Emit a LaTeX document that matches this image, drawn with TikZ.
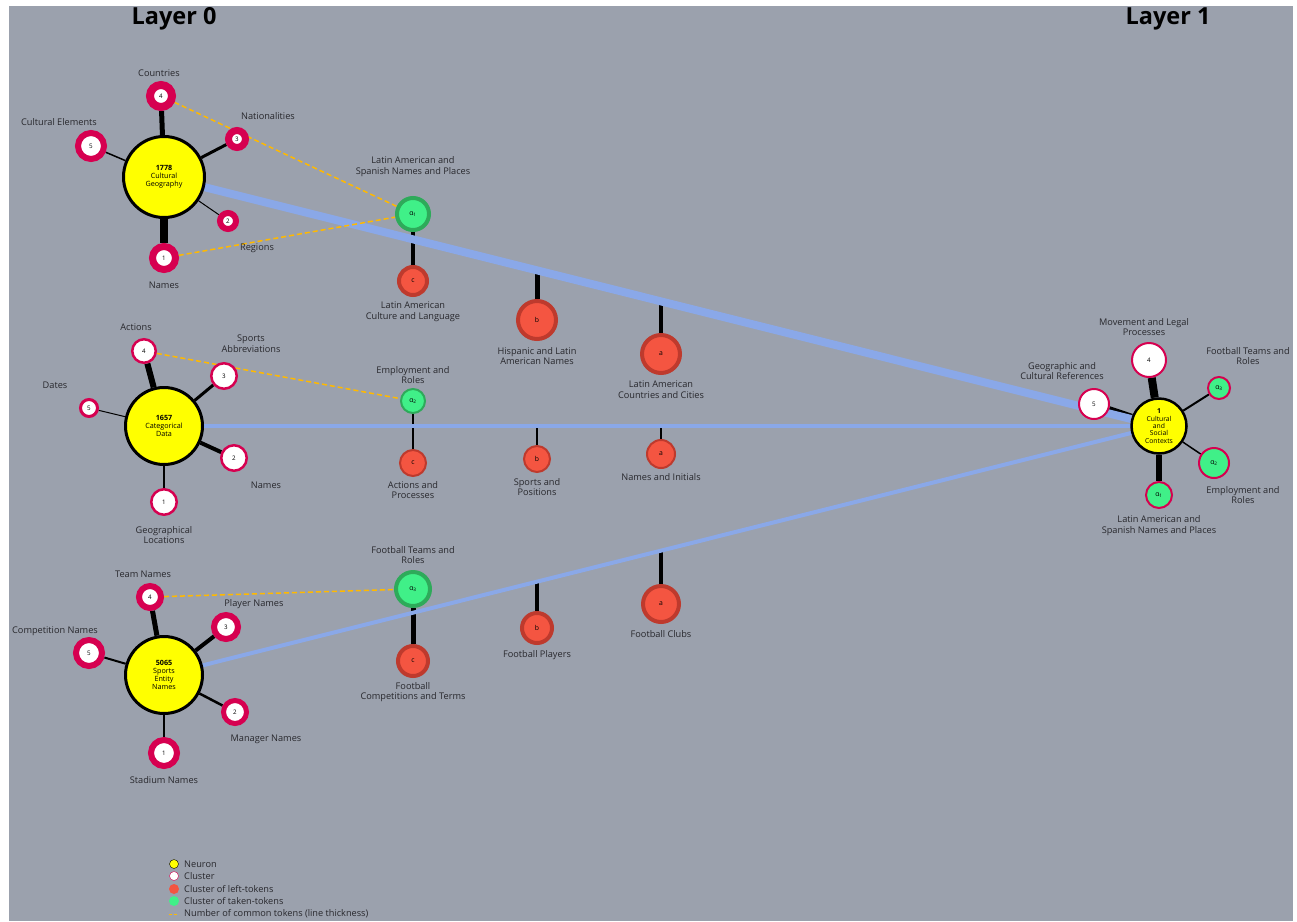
\documentclass[tikz,border=0pt]{standalone}
\usepackage{fontspec}
\setmainfont{Open Sans}
\usepackage{tikz}
\usetikzlibrary{backgrounds}
\usepackage{xcolor}
\definecolor{bggray}{RGB}{155,161,173}
\definecolor{crimson}{RGB}{214,0,80}
\definecolor{neuyellow}{RGB}{255,255,0}
\definecolor{leftred}{RGB}{244,85,65}
\definecolor{leftredb}{RGB}{190,58,45}
\definecolor{takengreen}{RGB}{64,240,136}
\definecolor{takengreenb}{RGB}{46,170,90}
\definecolor{linkblue}{RGB}{138,168,232}
\definecolor{commonorange}{RGB}{255,185,0}
\definecolor{labeltext}{RGB}{40,40,45}
\tikzstyle{neuron} = [circle, draw=black, line width=3pt, fill=neuyellow, inner sep=0pt, align=center, font=\fontsize{7.2}{7.8}\selectfont]
\tikzstyle{ring} = [circle, draw=crimson, fill=white, inner sep=0pt, font=\fontsize{6.2}{6.2}\selectfont]
\tikzstyle{leftc} = [circle, draw=leftredb, fill=leftred, inner sep=0pt, font=\fontsize{6.8}{6.8}\selectfont]
\tikzstyle{takenc} = [circle, draw=takengreenb, fill=takengreen, inner sep=0pt, font=\fontsize{6.8}{6.8}\selectfont]
\tikzstyle{lbl} = [align=center, text=labeltext, inner sep=0pt, font=\fontsize{9.2}{10.8}\selectfont]
\tikzstyle{link} = [draw=linkblue]
\tikzstyle{common} = [draw=commonorange, line width=1.5pt, dash pattern=on 5pt off 3pt]
\begin{document}
\begin{tikzpicture}[x=1pt, y=-1pt]
\useasboundingbox (0,0) rectangle (1297,921);

% Layer titles
\node[font=\fontsize{23.5}{25}\selectfont\bfseries] (t0) at (174,19) {Layer 0};
\node[font=\fontsize{23.5}{25}\selectfont\bfseries] (t1) at (1168,19) {Layer 1};

% Neurons
\node[neuron, minimum size=81pt] (n1) at (164,177) {\textbf{1778}\\Cultural\\Geography};
\node[neuron, minimum size=77pt] (n2) at (164,426) {\textbf{1657}\\Categorical\\Data};
\node[neuron, minimum size=77pt] (n3) at (164,675) {\textbf{5065}\\Sports\\Entity\\Names};
\node[neuron, minimum size=55pt, line width=2.5pt, font=\fontsize{6.8}{7.3}\selectfont] (m1) at (1159,426) {\textbf{1}\\Cultural\\and\\Social\\Contexts};

% Clusters of neuron 1778
\node[ring, minimum size=22pt, line width=8pt] (g4) at (161,96) {4};
\node[ring, minimum size=17pt, line width=7pt] (g3) at (237,139) {3};
\node[ring, minimum size=26pt, line width=6pt] (g5) at (91,146) {5};
\node[ring, minimum size=16pt, line width=6pt] (g2) at (228,221) {2};
\node[ring, minimum size=23pt, line width=7pt] (g1) at (164,258) {1};
\node[lbl] (lg4) at (159,73) {Countries};
\node[lbl] (lg3) at (268,116) {Nationalities};
\node[lbl] (lg5) at (59,122) {Cultural Elements};
\node[lbl] (lg2) at (257,248) {Regions};
\node[lbl] (lg1) at (164,285) {Names};

% Clusters of neuron 1657
\node[ring, minimum size=23.5pt, line width=2.5pt] (d4) at (144,351) {4};
\node[ring, minimum size=25.5pt, line width=2.5pt] (d3) at (224,376) {3};
\node[ring, minimum size=17pt, line width=3pt] (d5) at (89,408) {5};
\node[ring, minimum size=25.5pt, line width=2.5pt] (d2) at (234,458) {2};
\node[ring, minimum size=25.5pt, line width=2.5pt] (d1) at (164,502) {1};
\node[lbl] (ld4) at (136,327) {Actions};
\node[lbl] (ld3) at (251,344) {Sports\\Abbreviations};
\node[lbl] (ld5) at (55,385) {Dates};
\node[lbl] (ld2) at (266,485) {Names};
\node[lbl] (ld1) at (164,535) {Geographical\\Locations};

% Clusters of neuron 5065
\node[ring, minimum size=22pt, line width=6pt] (s4) at (150,597) {4};
\node[ring, minimum size=24pt, line width=6pt] (s3) at (226,627) {3};
\node[ring, minimum size=26pt, line width=6pt] (s5) at (89,653) {5};
\node[ring, minimum size=23pt, line width=5pt] (s2) at (235,712) {2};
\node[ring, minimum size=26pt, line width=6pt] (s1) at (164,753) {1};
\node[lbl] (ls4) at (143,574) {Team Names};
\node[lbl] (ls3) at (254,604) {Player Names};
\node[lbl] (ls5) at (55,631) {Competition Names};
\node[lbl] (ls2) at (266,739) {Manager Names};
\node[lbl] (ls1) at (164,780) {Stadium Names};

% Taken and left tokens, first row
\node[takenc, minimum size=32pt, line width=4pt] (ta1) at (413,214) {α\textsubscript{1}};
\node[leftc, minimum size=28pt, line width=4pt] (lc1) at (413,281) {c};
\node[leftc, minimum size=38pt, line width=4pt] (lb1) at (537,320) {b};
\node[leftc, minimum size=38pt, line width=4pt] (la1) at (661,354) {a};
\node[lbl] (lta1) at (413,167) {Latin American and\\Spanish Names and Places};
\node[lbl] (llc1) at (413,312) {Latin American\\Culture and Language};
\node[lbl] (llb1) at (537,356) {Hispanic and Latin\\American Names};
\node[lbl] (lla1) at (661,390) {Latin American\\Countries and Cities};

% second row
\node[takenc, minimum size=24pt, line width=2pt] (ta2) at (413,401) {α\textsubscript{2}};
\node[leftc, minimum size=26pt, line width=2pt] (lc2) at (413,463) {c};
\node[leftc, minimum size=26pt, line width=2pt] (lb2) at (537,459) {b};
\node[leftc, minimum size=28pt, line width=2pt] (la2) at (661,454) {a};
\node[lbl] (lta2) at (413,375) {Employment and\\Roles};
\node[lbl] (llc2) at (413,490) {Actions and\\Processes};
\node[lbl] (llb2) at (537,487) {Sports and\\Positions};
\node[lbl] (lla2) at (661,477) {Names and Initials};

% third row
\node[takenc, minimum size=34pt, line width=4pt] (ta3) at (413,589) {α\textsubscript{3}};
\node[leftc, minimum size=30pt, line width=4pt] (lc3) at (413,661) {c};
\node[leftc, minimum size=30pt, line width=4pt] (lb3) at (537,628) {b};
\node[leftc, minimum size=36pt, line width=4pt] (la3) at (661,604) {a};
\node[lbl] (lta3) at (413,555) {Football Teams and\\Roles};
\node[lbl] (llc3) at (413,692) {Football\\Competitions and Terms};
\node[lbl] (llb3) at (537,655) {Football Players};
\node[lbl] (lla3) at (661,634) {Football Clubs};

% Clusters of layer 1
\node[ring, minimum size=34pt, line width=2pt] (w4) at (1149,360) {4};
\node[ring, minimum size=30pt, line width=2pt] (w5) at (1094,404) {5};
\node[ring, fill=takengreen, minimum size=22pt, line width=2pt, font=\fontsize{6.8}{6.8}\selectfont] (k3) at (1219,388) {α\textsubscript{3}};
\node[ring, fill=takengreen, minimum size=30pt, line width=2pt, font=\fontsize{6.8}{6.8}\selectfont] (k2) at (1214,463) {α\textsubscript{2}};
\node[ring, fill=takengreen, minimum size=26pt, line width=2pt, font=\fontsize{6.8}{6.8}\selectfont] (k1) at (1159,495) {α\textsubscript{1}};
\node[lbl] (lw4) at (1144,327) {Movement and Legal\\Processes};
\node[lbl] (lw5) at (1062,371) {Geographic and\\Cultural References};
\node[lbl] (lk3) at (1248,356) {Football Teams and\\Roles};
\node[lbl] (lk2) at (1243,495) {Employment and\\Roles};
\node[lbl] (lk1) at (1159,526) {Latin American and\\Spanish Names and Places};

% where the stubs meet the blue links
\coordinate (pb1) at (537,270);
\coordinate (pa1) at (661,301);
\coordinate (pb2) at (537,426);
\coordinate (pa2) at (661,426);
\coordinate (pb3) at (537,582);
\coordinate (pa3) at (661,551);

% Legend
\node[circle, draw=black, fill=neuyellow, minimum size=9pt, inner sep=0pt] (k0) at (174,864) {};
\node[circle, draw=crimson, fill=white, minimum size=9pt, inner sep=0pt] (kk1) at (174,876) {};
\node[circle, fill=leftred, minimum size=10pt, inner sep=0pt] (kk2) at (174,889) {};
\node[circle, fill=takengreen, minimum size=10pt, inner sep=0pt] (kk3) at (174,901) {};
\coordinate (kd0) at (169,914);
\coordinate (kd1) at (179,914);
\node[lbl, anchor=west] (kt0) at (184,864) {Neuron};
\node[lbl, anchor=west] (kt1) at (184,876) {Cluster};
\node[lbl, anchor=west] (kt2) at (184,889) {Cluster of left-tokens};
\node[lbl, anchor=west] (kt3) at (184,901) {Cluster of taken-tokens};
\node[lbl, anchor=west] (kt4) at (184,914) {Number of common tokens (line thickness)};

\begin{scope}[on background layer]
\fill[bggray] (9,6) rectangle (1293,921);

% neuron to cluster edges
\draw[line width=5pt] (n1) -- (g4);
\draw[line width=3pt] (n1) -- (g3);
\draw[line width=1.5pt] (n1) -- (g5);
\draw[line width=1pt] (n1) -- (g2);
\draw[line width=8pt] (n1) -- (g1);
\draw[line width=6pt] (n2) -- (d4);
\draw[line width=3pt] (n2) -- (d3);
\draw[line width=1pt] (n2) -- (d5);
\draw[line width=4pt] (n2) -- (d2);
\draw[line width=1.5pt] (n2) -- (d1);
\draw[line width=5pt] (n3) -- (s4);
\draw[line width=4pt] (n3) -- (s3);
\draw[line width=2pt] (n3) -- (s5);
\draw[line width=2.5pt] (n3) -- (s2);
\draw[line width=1.5pt] (n3) -- (s1);
\draw[line width=8pt] (m1) -- (w4);
\draw[line width=6pt] (m1) -- (w5);
\draw[line width=2pt] (m1) -- (k3);
\draw[line width=1.5pt] (m1) -- (k2);
\draw[line width=6pt] (m1) -- (k1);

% taken to left
\draw[line width=4pt] (ta1) -- (lc1);
\draw[line width=2pt] (ta2) -- (lc2);
\draw[line width=5pt] (ta3) -- (lc3);

% stubs
\draw[line width=5pt] (pb1) -- (lb1);
\draw[line width=4pt] (pa1) -- (la1);
\draw[line width=2pt] (pb2) -- (lb2);
\draw[line width=2pt] (pa2) -- (la2);
\draw[line width=4pt] (pb3) -- (lb3);
\draw[line width=4pt] (pa3) -- (la3);

% links between layers
\draw[link, line width=8pt] (n1.center) -- (m1.center);
\draw[link, line width=4pt] (n2.center) -- (m1.center);
\draw[link, line width=4pt] (n3.center) -- (m1.center);

% common tokens
\draw[common] (g4) -- (ta1);
\draw[common] (g1) -- (ta1);
\draw[common] (d4) -- (ta2);
\draw[common] (s4) -- (ta3);
\draw[common, line width=1pt, dash pattern=on 3pt off 2pt] (kd0) -- (kd1);
\end{scope}
\end{tikzpicture}
\end{document}
